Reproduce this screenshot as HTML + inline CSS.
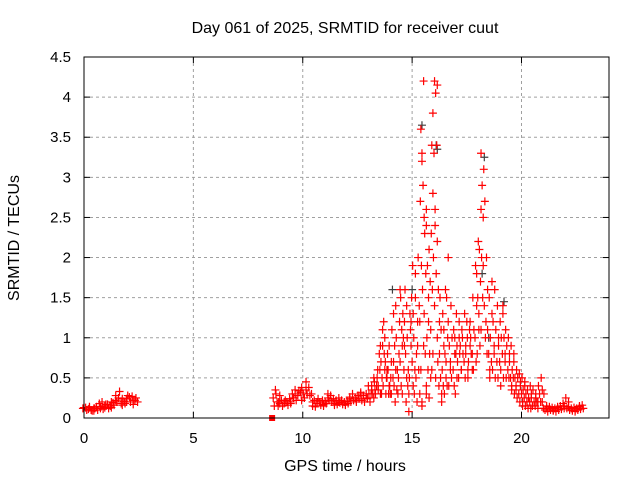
<!DOCTYPE html>
<html><head><meta charset="utf-8"><style>
body{margin:0;background:#fff}
svg{display:block}
text{font-family:"Liberation Sans",sans-serif;font-size:15px;fill:#000}
.big{font-size:16px}
</style></head><body>
<svg id="chart" width="640" height="480" viewBox="0 0 640 480">
<text class="big" x="345" y="33" text-anchor="middle">Day 061 of 2025, SRMTID for receiver cuut</text>
<text class="big" x="345" y="471" text-anchor="middle">GPS time / hours</text>
<text class="big" transform="translate(19,238) rotate(-90)" text-anchor="middle">SRMTID / TECUs</text>
<g id="grid"></g>
<g id="ticks"></g>
<g id="grayS"></g>
<g id="redS"></g>
<rect x="84" y="57" width="525" height="361" fill="none" stroke="#000" stroke-width="1"/>
</svg>
<script>
const xTicks=[0,5,10,15,20];
const yTicks=[0,0.5,1,1.5,2,2.5,3,3.5,4,4.5];
const yTickLabels=["0","0.5","1","1.5","2","2.5","3","3.5","4","4.5"];
const hours=[0.0,0.1,0.2,0.3,0.4,0.5,0.6,0.7,0.8,0.9,1.0,1.1,1.2,1.3,1.4,1.5,1.6,1.7,1.8,1.9,2.0,2.1,2.2,2.3,2.4,
8.7,8.8,8.9,9.0,9.1,9.2,9.3,9.4,9.5,9.6,9.7,9.8,9.9,10.0,10.1,10.2,10.3,10.4,10.5,10.6,10.7,10.8,10.9,11.0,11.1,11.2,11.3,11.4,11.5,11.6,11.7,11.8,11.9,12.0,12.1,12.2,12.3,12.4,12.5,12.6,12.7,12.8,12.9,
13.0,13.1,13.2,13.3,13.4,13.5,13.6,13.7,13.8,13.9,14.0,14.1,14.2,14.3,14.4,14.5,14.6,14.7,14.8,14.9,15.0,15.1,15.2,15.3,15.4,15.5,15.6,15.7,15.8,15.9,16.0,16.1,16.2,16.3,16.4,16.5,16.6,16.7,16.8,16.9,17.0,17.1,17.2,17.3,17.4,17.5,17.6,17.7,17.8,17.9,18.0,18.1,18.2,18.3,18.4,18.5,18.6,18.7,18.8,18.9,19.0,19.1,19.2,19.3,19.4,19.5,19.6,19.7,19.8,19.9,20.0,20.1,20.2,20.3,20.4,20.5,20.6,20.7,20.8,20.9,21.0,
21.1,21.2,21.3,21.4,21.5,21.6,21.7,21.8,21.9,22.0,22.1,22.2,22.3,22.4,22.5,22.6,22.7,22.8];
const samples=[[0.12,0.13],[0.13,0.1],[0.11,0.14],[0.1,0.13],[0.12,0.09],[0.09,0.12],[0.14,0.1],[0.18,0.12],[0.2,0.14],[0.15,0.11],[0.13,0.17],[0.17,0.12],[0.15,0.2],[0.19,0.13],[0.22,0.16],[0.28,0.2],[0.25,0.33],[0.18,0.24],[0.21,0.16],[0.24,0.18],[0.2,0.28],[0.26,0.2],[0.27,0.22],[0.22,0.17],[0.2,0.25],
[0.25,0.15],[0.3,0.2,0.35],[0.2,0.28,0.15],[0.22,0.18],[0.2,0.15],[0.18,0.22],[0.2,0.16],[0.24,0.18],[0.3,0.2],[0.35,0.25],[0.3,0.22],[0.28,0.34],[0.32,0.22],[0.3,0.38],[0.35,0.25],[0.45,0.3],[0.38,0.28],[0.3,0.2],[0.22,0.15],[0.2,0.14],[0.18,0.24],[0.2,0.16],[0.22,0.17],[0.2,0.15],[0.25,0.18],[0.3,0.22],[0.28,0.2],[0.24,0.18],[0.22,0.16],[0.2,0.17],[0.25,0.19],[0.22,0.17],[0.2,0.16],[0.21,0.17],[0.24,0.18],[0.26,0.2],[0.3,0.22],[0.25,0.2],[0.28,0.22],[0.32,0.24],[0.3,0.22],[0.28,0.2],[0.3,0.24],
[0.3,0.25,0.4],[0.35,0.2,0.3],[0.4,0.3,0.25],[0.45,0.3,0.5,0.35],[0.5,0.35,0.4,0.6],[0.6,0.4,0.8,0.3],[1.1,0.7,0.5,0.9,0.3],[0.9,1.2,0.6,0.4,0.8],[0.7,0.5,1.0,0.3,0.6],[0.6,0.4,0.8,0.3,0.5],[0.5,0.9,0.3,0.7,0.4],[0.7,1.1,0.5,0.3],[1.3,0.9,0.6,0.4,0.2],[1.0,0.6,1.4,0.35],[0.8,1.6,0.5,1.2,0.3],[1.1,0.7,0.4,0.9,1.5],[0.9,1.3,0.6,0.3,1.0],[1.2,0.8,0.5,1.6,0.2],[1.0,0.6,1.4,0.4,0.08],[1.3,0.9,0.5,1.1,0.3],[1.9,1.2,0.7,0.4,1.5],[1.8,1.0,0.6,1.3,0.3],[1.5,0.8,1.2,0.5,0.2],[2.0,1.4,0.9,0.6,0.3],[3.6,3.3,2.7,1.9,1.2,0.6,0.2],[4.2,3.2,2.9,2.5,1.6,0.9,0.15],[2.6,2.3,1.8,1.3,0.8,0.4],[2.4,1.9,1.5,1.0,0.6,0.3],[2.1,1.7,1.2,0.8,0.5,0.25],[3.4,2.8,2.3,1.6,1.1,0.6],[4.2,3.8,3.3,2.6,2.0,1.4,0.8],[4.15,4.05,3.4,2.4,1.8,1.0,0.5],[2.2,1.6,1.2,0.7,0.4],[1.5,1.1,0.8,0.5,0.3],[1.3,0.9,0.6,0.4,0.2],[1.6,1.1,0.8,0.5,0.3],[2.0,1.5,1.0,0.7,0.4],[1.2,0.9,0.6,0.4],[1.4,1.0,0.7,0.5],[1.1,0.8,0.6,0.4],[1.3,1.0,0.8,0.5,0.3],[1.0,0.7,0.5,0.9],[1.2,0.9,0.6,0.8],[1.1,0.8,0.6,1.0],[1.3,0.9,0.7,0.5],[1.0,0.8,1.2,0.6],[0.9,0.7,1.1,0.5],[1.2,0.8,0.6,1.0],[1.5,1.1,0.8,0.6],[1.9,1.4,1.0,0.7],[2.2,1.8,1.5,1.1,0.8],[2.6,2.1,1.7,1.3,0.9],[3.3,2.9,2.5,2.0,1.5,1.1],[3.1,2.7,1.9,1.4,1.0],[2.0,1.6,1.2,0.8],[1.5,1.1,0.8,0.6],[1.3,1.0,0.7,0.5],[1.7,1.2,0.9,0.6],[1.6,1.1,0.8,0.5],[1.4,1.0,0.7,0.5],[1.2,0.9,0.7,0.4],[1.4,1.0,0.8,0.6],[1.3,1.0,0.8,0.5],[1.1,0.9,0.7,0.5],[1.0,0.8,0.6,0.5],[0.9,0.7,0.5,0.4],[0.8,0.6,0.5,0.35],[0.7,0.5,0.4,0.3],[0.6,0.5,0.35,0.25],[0.55,0.45,0.3,0.2],[0.5,0.4,0.3,0.2],[0.45,0.35,0.25,0.15],[0.4,0.3,0.2,0.15],[0.35,0.25,0.2,0.12],[0.4,0.3,0.2,0.12],[0.35,0.25,0.15],[0.3,0.2,0.15],[0.25,0.2,0.12],[0.4,0.3,0.2],[0.5,0.35,0.2],[0.3,0.2,0.12],
[0.15,0.1],[0.12,0.08],[0.14,0.1],[0.13,0.09],[0.12,0.1],[0.14,0.08],[0.13,0.1],[0.15,0.11],[0.18,0.12],[0.25,0.15],[0.2,0.12],[0.14,0.1],[0.12,0.09],[0.13,0.1],[0.12,0.08],[0.14,0.1],[0.15,0.11],[0.16,0.12]];
const grayHours=[14.1,15.0,15.45,16.1,16.15,18.2,18.3,18.5,19.2];
const grayValues=[1.6,1.6,3.65,3.4,3.35,1.8,3.25,1.0,1.45];
const squareHour=8.6, squareValue=0;

const NS="http://www.w3.org/2000/svg";
const X0=84,X1=609,Y0=418,Y1=57,XMAX=24,YMAX=4.5;
const xs=h=>X0+(X1-X0)*h/XMAX;
const ys=v=>Y0-(Y0-Y1)*v/YMAX;
function mk(tag,attrs,parent){const e=document.createElementNS(NS,tag);for(const k in attrs)e.setAttribute(k,attrs[k]);parent.appendChild(e);return e;}
const grid=document.getElementById('grid'),ticks=document.getElementById('ticks'),svg=document.getElementById('chart');
xTicks.forEach(t=>{const x=xs(t);
 if(t>0){const g=mk('line',{x1:x,x2:x,y1:Y1,y2:Y0,stroke:'#a0a0a0','stroke-dasharray':'3,3'},grid);
 
 }
 mk('line',{x1:x,x2:x,y1:Y0,y2:Y0-6,stroke:'#000'},ticks);
 mk('line',{x1:x,x2:x,y1:Y1,y2:Y1+6,stroke:'#000'},ticks);
 const tx=mk('text',{x:x,y:443,'text-anchor':'middle'},svg);tx.textContent=String(t);
 
 
});
yTicks.forEach((t,i)=>{const y=ys(t);
 if(t>0&&t<YMAX){const g=mk('line',{x1:X0,x2:X1,y1:y,y2:y,stroke:'#a0a0a0','stroke-dasharray':'3,3'},grid);
 
 }
 mk('line',{x1:X0,x2:X0+6,y1:y,y2:y,stroke:'#000'},ticks);
 mk('line',{x1:X1,x2:X1-6,y1:y,y2:y,stroke:'#000'},ticks);
 const tx=mk('text',{x:71,y:y+5,'text-anchor':'end'},svg);tx.textContent=yTickLabels[i];
 
 
});
function plus(g,x,y,c){mk('path',{d:`M${x-4},${y}h8M${x},${y-4}v8`,stroke:c,'stroke-width':1.2,fill:'none'},g);}
const gg=document.getElementById('grayS');
grayHours.forEach((h,i)=>plus(gg,xs(h),ys(grayValues[i]),'#404040'));
const rg=document.getElementById('redS');
hours.forEach((h,i)=>{samples[i].forEach((v,j)=>{plus(rg,xs(h+(((j*7+i)%5)-2)*0.025),ys(v),'#ff0000');});});
const sq=mk('rect',{x:xs(squareHour)-3,y:ys(squareValue)-3,width:6,height:6,fill:'#ff0000'},rg);


</script>
</body></html>
